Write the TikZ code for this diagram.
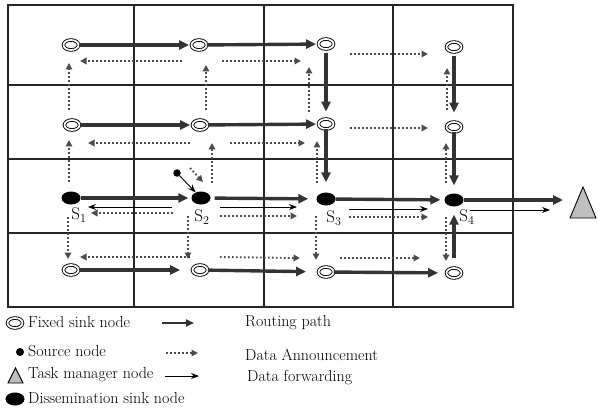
\documentclass[tikz,border=0pt]{standalone}
\usepackage{fontspec}
\usetikzlibrary{arrows.meta,shapes.geometric,calc}
\begin{document}
\begin{tikzpicture}[x=1pt,y=-1pt,
 grid/.style={line width=1.1pt, black!85},
 fsink/.style={ellipse, draw, line width=0.9pt, double, double distance=1.7pt, minimum width=15pt, minimum height=10pt, inner sep=0pt},
 dsink/.style={ellipse, fill=black, minimum width=19pt, minimum height=13pt, inner sep=0pt},
 srcnode/.style={circle, fill=black, minimum size=7.5pt, inner sep=0pt},
 route/.style={line width=3.4pt, black!80, -{Triangle[length=10pt,width=9pt]}},
 announce/.style={line width=1.9pt, black!70, dash pattern=on 1.6pt off 2.4pt, -{Triangle[length=6.5pt,width=6.5pt]}},
 fwd/.style={line width=0.9pt, black, -{Stealth[length=8pt,width=6pt]}},
 lbl/.style={font=\fontsize{17}{19}\selectfont, inner sep=0pt},
 legtext/.style={font=\fontsize{16}{18}\selectfont, anchor=west, inner sep=0pt},
 tmgr/.style={draw, line width=0.9pt, fill=black!25}]
\useasboundingbox (0,0) rectangle (597,409);
% grid
\draw[grid] (8,5) rectangle (513,307);
\draw[grid] (134,5) -- (134,307) (264,5) -- (264,307) (393,5) -- (393,307);
\draw[grid] (8,85) -- (513,85) (8,159) -- (513,159) (8,233) -- (513,233);
% nodes
\node[fsink] (f11) at (71,45) {};
\node[fsink] (f12) at (199,45) {};
\node[fsink] (f13) at (326,44) {};
\node[fsink] (f14) at (454,47) {};
\node[fsink] (f21) at (72,125) {};
\node[fsink] (f22) at (200,125) {};
\node[fsink] (f23) at (326,124) {};
\node[fsink] (f24) at (454,127) {};
\node[dsink] (S1) at (71,198) {};
\node[dsink] (S2) at (201,198) {};
\node[dsink] (S3) at (326,199) {};
\node[dsink] (S4) at (454,200) {};
\node[fsink] (f41) at (71,270) {};
\node[fsink] (f42) at (200,270) {};
\node[fsink] (f43) at (326,272) {};
\node[fsink] (f44) at (454,273) {};
\node[srcnode] (src) at (177,173) {};
\coordinate (T) at (583,204);
\draw[tmgr] ($(T)+(-13,14)$) -- ($(T)+(0,-17)$) -- ($(T)+(13,14)$) -- cycle;
% labels
\node[lbl] (l1) at (79,215) {S$_1$};
\node[lbl] (l2) at (202,217) {S$_2$};
\node[lbl] (l3) at (334,218) {S$_3$};
\node[lbl] (l4) at (467,217) {S$_4$};
% routing paths
\draw[route, shorten >=2pt] (f11) -- (f12);
\draw[route, shorten >=2pt] (f12) -- (f13);
\draw[route, shorten <=4pt, shorten >=7pt] (f13) -- (f23);
\draw[route, shorten <=4pt, shorten >=9pt] (f14) -- (f24);
\draw[route, shorten >=2pt] (f21) -- (f22);
\draw[route, shorten >=2pt] (f22) -- (f23);
\draw[route, shorten >=10pt] (f23) -- (S3);
\draw[route, shorten >=8pt] (f24) -- (S4);
\draw[route, shorten >=3pt] (S1) -- (S2);
\draw[route, shorten <=4pt, shorten >=8pt] (S2) -- (S3);
\draw[route, shorten >=4pt] (S3) -- (S4);
\draw[route] (S4) -- ($(T)+(-20,-4)$);
\draw[route, shorten >=12pt] (f41) -- (f42);
\draw[route, shorten >=12pt] (f42) -- (f43);
\draw[route, shorten >=8pt] (f43) -- (f44);
\draw[route, shorten <=10pt, shorten >=8pt] (f44) -- (S4);
% data announcement
\draw[announce] ($(f12)+(-17,16)$) -- ($(f11)+(9,16)$);
\draw[announce] ($(f12)+(23,16)$) -- ($(f13)+(-25,17)$);
\draw[announce] ($(f13)+(24,10)$) -- ($(f14)+(-26,7)$);
\draw[announce] ($(f21)+(-3,-15)$) -- ($(f11)+(-2,18)$);
\draw[announce] ($(f22)+(6,-15)$) -- ($(f12)+(7,20)$);
\draw[announce] ($(f23)+(-17,-12)$) -- ($(f13)+(-17,23)$);
\draw[announce] ($(f24)+(-7,-17)$) -- ($(f14)+(-7,21)$);
\draw[announce] ($(f22)+(-10,18)$) -- ($(f21)+(16,18)$);
\draw[announce] ($(f22)+(30,18)$) -- ($(f23)+(-21,19)$);
\draw[announce] ($(f23)+(24,4)$) -- ($(f24)+(-26,1)$);
\draw[announce] ($(S1)+(-2,-16)$) -- ($(f21)+(-3,15)$);
\draw[announce] ($(S2)+(11,-15)$) -- ($(f22)+(12,18)$);
\draw[announce] ($(S3)+(-9,-16)$) -- ($(f23)+(-9,17)$);
\draw[announce] ($(S4)+(-8,-17)$) -- ($(f24)+(-8,16)$);
\draw[announce] ($(S2)+(-28,15)$) -- ($(S1)+(20,15)$);
\draw[announce] ($(S2)+(19,18)$) -- ($(S3)+(-29,17)$);
\draw[announce] ($(S3)+(23,18)$) -- ($(S4)+(-26,17)$);
\draw[announce] ($(f42)+(-10,-13)$) -- ($(f41)+(9,-13)$);
\draw[announce] ($(f42)+(20,-13)$) -- ($(f43)+(-26,-14)$);
\draw[announce] ($(f43)+(14,-14)$) -- ($(f44)+(-34,-15)$);
\draw[announce] ($(S1)+(-3,19)$) -- ($(f41)+(-3,-11)$);
\draw[announce] ($(S2)+(-13,18)$) -- ($(f42)+(-12,-11)$);
\draw[announce] ($(S3)+(-10,17)$) -- ($(f43)+(-10,-12)$);
\draw[announce] ($(S4)+(-8,17)$) -- ($(f44)+(-8,-12)$);
\draw[announce] ($(src)+(13,-5)$) -- ($(S2)+(2,-16)$);
% data forwarding
\draw[fwd] (src) -- (S2);
\draw[fwd] ($(S2)+(-29,9)$) -- ($(S1)+(17,9)$);
\draw[fwd] ($(S2)+(19,9)$) -- ($(S3)+(-29,8)$);
\draw[fwd] ($(S3)+(23,10)$) -- ($(S4)+(-26,9)$);
\draw[fwd] ($(S4)+(16,10)$) -- ($(T)+(-33,6)$);
% legend
\node[fsink] (lf) at (15,323) {};
\node[legtext] (lft) at (28,322) {Fixed sink node};
\node[srcnode, minimum size=8pt] (ls) at (20,352) {};
\node[legtext] (lst) at (28,351) {Source node};
\coordinate (lt) at (15.5,376);
\draw[tmgr] ($(lt)+(-7.5,7)$) -- ($(lt)+(0,-8)$) -- ($(lt)+(7.5,7)$) -- cycle;
\node[legtext] (ltt) at (28,375) {Task manager node};
\node[dsink] (ld) at (15,399) {};
\node[legtext] (ldt) at (28,398) {Dissemination sink node};
\coordinate (r1) at (162,323); \coordinate (r2) at (194,323);
\draw[route, line width=2.4pt, -{Triangle[length=8pt,width=7pt]}] (r1) -- (r2);
\node[legtext] (rt) at (245,323) {Routing path};
\coordinate (a1) at (166,353); \coordinate (a2) at (198,353);
\draw[announce, line width=1.3pt] (a1) -- (a2);
\node[legtext] (at) at (245,355) {Data Announcement};
\coordinate (d1) at (165,376); \coordinate (d2) at (199,376);
\draw[fwd] (d1) -- (d2);
\node[legtext] (dt) at (247,378) {Data forwarding};
\end{tikzpicture}
\end{document}
